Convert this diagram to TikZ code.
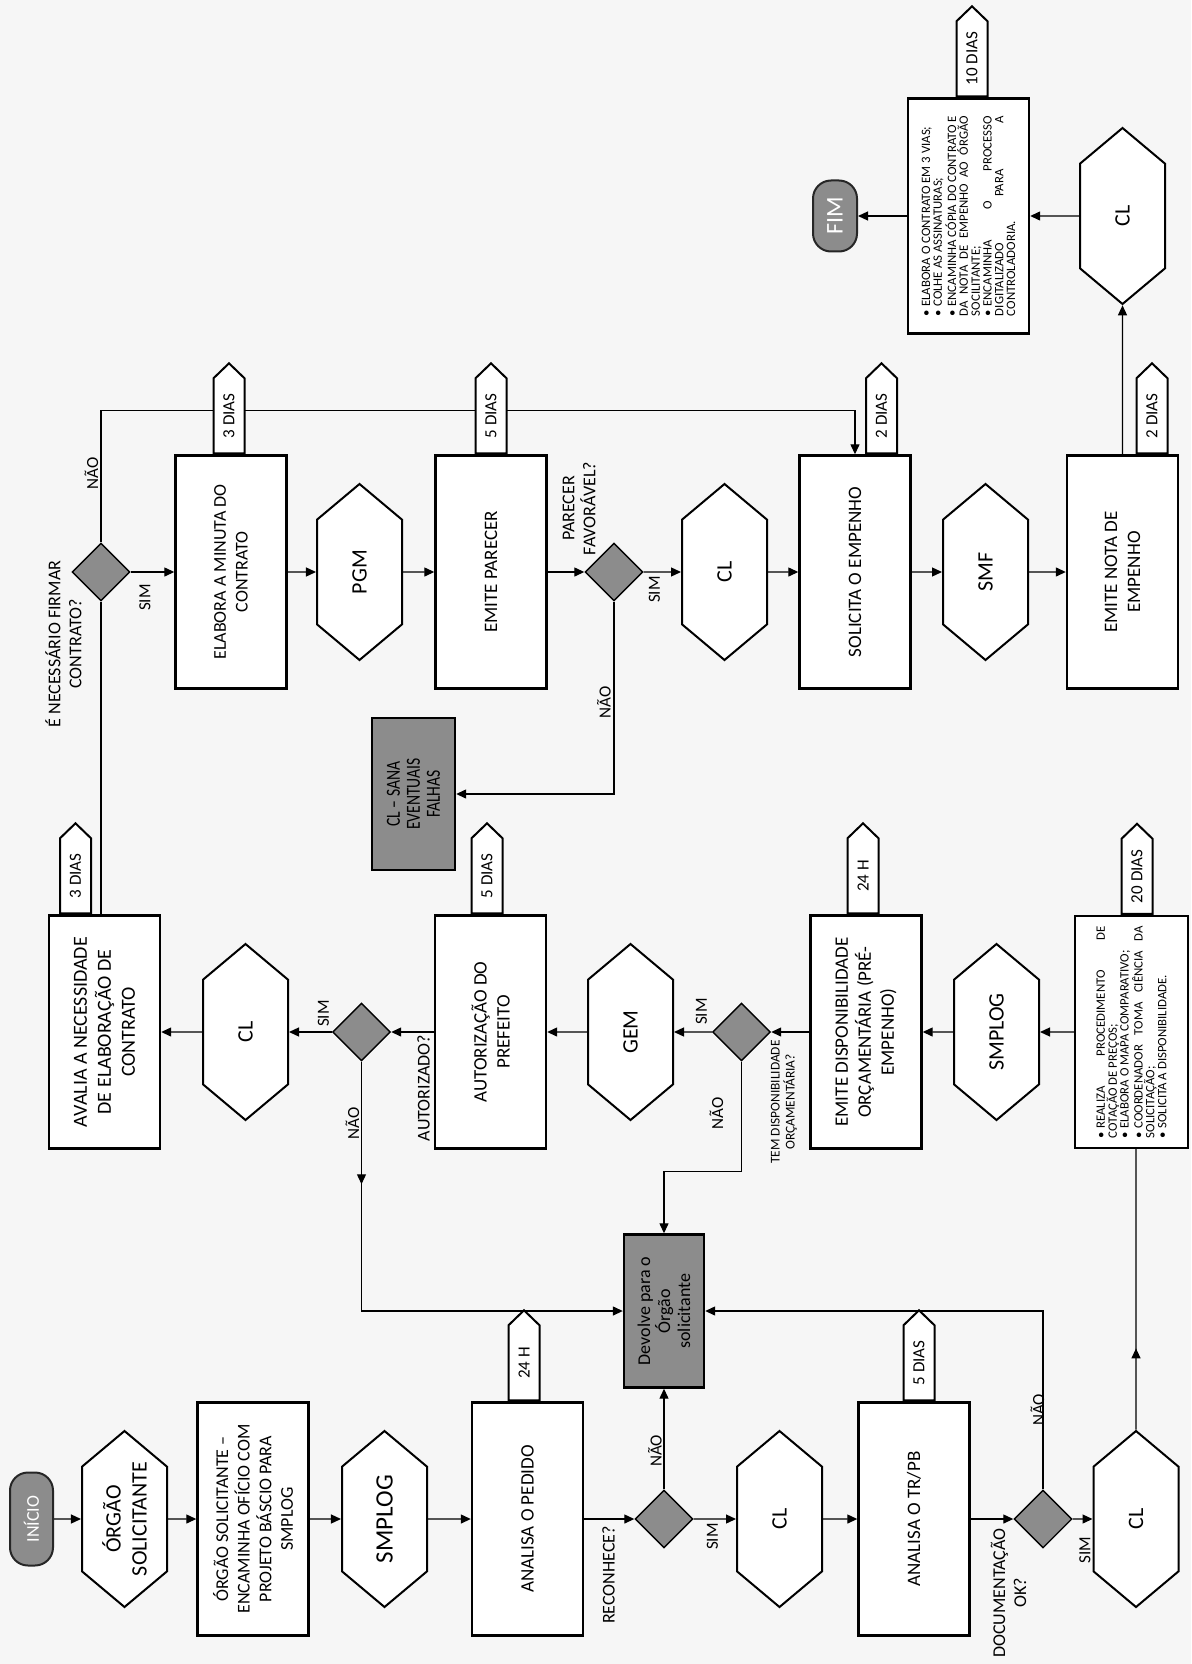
\documentclass[tikz,border=0pt]{standalone}
\usepackage{fontspec}
\setmainfont{Carlito}
\newfontfamily\condensada{Carlito}[FakeStretch=0.78]
\usetikzlibrary{shapes.geometric, shapes.symbols, arrows.meta, decorations.markings}

\definecolor{cinza}{gray}{0.55}
\definecolor{papel}{gray}{0.965}

\tolerance=10000
\hbadness=10000
\hyphenpenalty=10000
\exhyphenpenalty=10000
\newcommand{\marca}{•\kern1.5pt}

\begin{document}
\begin{tikzpicture}[
    x=0.5pt, y=-0.5pt,
    box/.style={rectangle, draw, line width=1.2pt, fill=white, rotate=90,
        minimum width=116.5pt, minimum height=55.5pt, align=center, inner sep=2pt,
        font=\fontsize{9.5}{11.5}\selectfont},
    hexa/.style={signal, signal to=east and west, signal pointer angle=100,
        draw, line width=1pt, fill=white, rotate=90,
        minimum width=88pt, minimum height=42.5pt, align=center, inner sep=1pt,
        font=\fontsize{11}{13}\selectfont},
    tag/.style={signal, signal to=east, signal pointer angle=92,
        draw, line width=1pt, fill=white, rotate=90, anchor=west,
        minimum width=45pt, minimum height=15.5pt, inner sep=1pt,
        font=\fontsize{8.5}{10}\selectfont},
    decisao/.style={diamond, draw, line width=0.7pt, fill=cinza,
        minimum width=29pt, minimum height=29pt, inner sep=0pt},
    terminal/.style={rectangle, rounded corners=9pt, draw=black!85, line width=1pt,
        fill=cinza, text=white, rotate=90, minimum height=21.5pt,
        font=\fontsize{9}{11}\selectfont},
    cinzabox/.style={rectangle, draw, line width=1.2pt, fill=cinza, rotate=90,
        align=center, inner sep=2pt, font=\fontsize{9}{10}\selectfont},
    lista/.style={rectangle, draw, line width=1.2pt, fill=white, rotate=90,
        align=justify, inner sep=0pt, font=\fontsize{6.4}{5.9}\selectfont},
    rotulo/.style={rotate=90, inner sep=1pt, font=\fontsize{8.5}{10}\selectfont},
    pergunta/.style={rotate=90, inner sep=1pt, align=center,
        font=\fontsize{9}{10.5}\selectfont},
    arrow/.style={-{Triangle[length=5pt, width=4.5pt]}, line width=0.65pt},
    conector/.style={line width=0.65pt},
    midarrow/.style={postaction={decorate}, decoration={markings,
        mark=at position #1 with {\arrow{Triangle[length=5pt, width=4.5pt]}}}},
]

\fill[papel] (0,0) rectangle (1191,1664);
\useasboundingbox (0,0) rectangle (1191,1664);

% ---- linha 1: do pedido ao CL ----
\node[terminal, minimum width=46.5pt] (inicio) at (31.5,1519) {INÍCIO};
\node[hexa, inner xsep=-3pt] (orgao) at (124.5,1519) {ÓRGÃO\\SOLICITANTE};
\node[box, font=\fontsize{9}{10.8}\selectfont] (oficio) at (253,1519)
    {ÓRGÃO SOLICITANTE –\\ENCAMINHA OFÍCIO COM\\PROJETO BÁSCIO PARA\\SMPLOG};
\node[hexa, font=\fontsize{12.5}{14}\selectfont] (smplogA) at (384.5,1519) {SMPLOG};
\node[box] (pedido) at (527.5,1519) {ANALISA O PEDIDO};
\node[decisao] (reconhece) at (664,1519) {};
\node[hexa] (clA) at (779.5,1519) {CL};
\node[box] (trpb) at (914,1519) {ANALISA O TR/PB};
\node[decisao] (docok) at (1043,1519) {};
\node[hexa] (clB) at (1136,1519) {CL};

\node[cinzabox, minimum width=76.5pt, minimum height=40pt] (devolve) at (664,1311)
    {Devolve para o\\Órgão\\solicitante};

% ---- linha 2: cotacao ate avaliacao do contrato ----
\node[box, font=\fontsize{10}{12}\selectfont] (avalia) at (104.5,1032)
    {AVALIA A NECESSIDADE\\DE ELABORAÇÃO DE\\CONTRATO};
\node[hexa] (clC) at (245.5,1032) {CL};
\node[decisao] (autorizado) at (361.5,1032) {};
\node[box] (prefeito) at (490.5,1032) {AUTORIZAÇÃO DO\\PREFEITO};
\node[hexa] (gem) at (630.5,1032) {GEM};
\node[decisao] (temdisp) at (741.5,1032) {};
\node[box] (disponib) at (866,1032) {EMITE DISPONIBILIDADE\\ORÇAMENTÁRIA (PRÉ-\\EMPENHO)};
\node[hexa] (smplogB) at (996.5,1032) {SMPLOG};
\node[lista, minimum width=116pt, minimum height=56.5pt, text width=106pt] (realiza) at (1131.5,1032)
    {\noindent\marca REALIZA PROCEDIMENTO DE\linebreak COTAÇÃO DE PREÇOS;\newline
     \marca ELABORA O MAPA COMPARATIVO;\newline
     \marca COORDENADOR TOMA CIÊNCIA DA\linebreak SOLICITAÇÃO;\newline
     \marca SOLICITA A DISPONIBILIDADE.};

% ---- linha 3: contrato e empenho ----
\node[decisao] (firmar) at (101,572) {};
\node[box, font=\fontsize{9}{10.8}\selectfont] (minuta) at (231,572) {ELABORA A MINUTA DO\\CONTRATO};
\node[hexa] (pgm) at (359.5,572) {PGM};
\node[box] (parecer) at (491,572) {EMITE PARECER};
\node[decisao] (favoravel) at (614,572) {};
\node[hexa] (clD) at (724.5,572) {CL};
\node[box] (empenho) at (855,572) {SOLICITA O EMPENHO};
\node[hexa] (smf) at (985.5,572) {SMF};
\node[box] (nota) at (1122.5,572) {EMITE NOTA DE\\EMPENHO};

\node[cinzabox, minimum width=76pt, minimum height=41.5pt,
      font=\condensada\fontsize{10}{10}\selectfont] (sana) at (413.5,794)
    {CL – SANA\\EVENTUAIS\\FALHAS};

% ---- linha 4: fim ----
\node[terminal, minimum width=35.5pt, minimum height=22pt,
      font=\fontsize{12}{14}\selectfont] (fim) at (835,216) {FIM};
\node[lista, minimum width=117.5pt, minimum height=60.5pt, text width=100pt] (contrato) at (968.5,216)
    {\noindent\marca ELABORA O CONTRATO EM 3 VIAS;\newline
     \marca COLHE AS ASSINATURAS;\newline
     \marca ENCAMINHA CÓPIA DO CONTRATO E\linebreak DA NOTA DE EMPENHO AO ÓRGÃO\linebreak SOCILITANTE;\newline
     \marca ENCAMINHA O PROCESSO\linebreak DIGITALIZADO PARA A\linebreak CONTROLADORIA.};
\node[hexa] (clE) at (1122.5,216) {CL};

% ---- conectores ----
\draw[arrow] (inicio) -- (orgao);
\draw[arrow] (orgao) -- (oficio);
\draw[arrow] (oficio) -- (smplogA);
\draw[arrow] (smplogA) -- (pedido);
\draw[arrow] (pedido) -- (reconhece);
\draw[arrow] (reconhece) -- (clA);
\draw[arrow] (reconhece) -- (devolve);
\draw[arrow] (clA) -- (trpb);
\draw[arrow] (trpb) -- (docok);
\draw[arrow] (docok) -- (clB);
\draw[arrow] (docok) |- (devolve);
\draw[conector, midarrow=0.29] (clB) -- (clB |- realiza.west);

\draw[arrow] (realiza) -- (smplogB);
\draw[arrow] (smplogB) -- (disponib);
\draw[arrow] (disponib) -- (temdisp);
\draw[arrow] (temdisp) -- (gem);
\draw[arrow] (temdisp.south) -- ++(0,110) -| (devolve);
\draw[arrow] (gem) -- (prefeito);
\draw[arrow] (prefeito) -- (autorizado);
\draw[arrow] (autorizado) -- (clC);
\draw[arrow, midarrow=0.24] (autorizado) |- (devolve);
\draw[arrow] (clC) -- (avalia);
\draw[conector] (firmar) -- (firmar |- avalia.east);

\draw[arrow] (firmar) -- (minuta);
\draw[arrow] (firmar.north) -- ++(0,-132) -| (empenho);
\draw[arrow] (minuta) -- (pgm);
\draw[arrow] (pgm) -- (parecer);
\draw[arrow] (parecer) -- (favoravel);
\draw[arrow] (favoravel) -- (clD);
\draw[arrow] (favoravel) |- (sana);
\draw[arrow] (clD) -- (empenho);
\draw[arrow] (empenho) -- (smf);
\draw[arrow] (smf) -- (nota);
\draw[arrow] (nota) -- (clE);
\draw[arrow] (clE) -- (contrato);
\draw[arrow] (contrato) -- (fim);

% ---- prazos ----
\node[tag] (tpedido)   at ([xshift=-1.75pt]pedido.east)   {24 H};
\node[tag] (ttrpb)     at ([xshift=2.5pt]trpb.east)       {5 DIAS};
\node[tag] (tavalia)   at ([xshift=-14.5pt]avalia.east)   {3 DIAS};
\node[tag] (tprefeito) at ([xshift=-1.75pt]prefeito.east) {5 DIAS};
\node[tag] (tdisponib) at ([xshift=-1.5pt]disponib.east)  {24 H};
\node[tag] (trealiza)  at ([xshift=2.75pt]realiza.east)   {20 DIAS};
\node[tag] (tminuta)   at ([xshift=-1pt]minuta.east)      {3 DIAS};
\node[tag] (tparecer)  at (parecer.east)                  {5 DIAS};
\node[tag] (tempenho)  at ([xshift=13.25pt]empenho.east)  {2 DIAS};
\node[tag] (tnota)     at ([xshift=14.75pt]nota.east)     {2 DIAS};
\node[tag] (tcontrato) at ([xshift=1.75pt]contrato.east)  {10 DIAS};

% ---- rotulos ----
\node[pergunta] (qreconhece) at (608.5,1575) {RECONHECE?};
\node[rotulo] (nreconhece) at (655,1451) {NÃO};
\node[rotulo] (sreconhece) at (712.5,1536.5) {SIM};
\node[pergunta] (qdocok) at (1008.5,1593) {DOCUMENTAÇÃO\\OK?};
\node[rotulo] (ndocok) at (1037.5,1410) {NÃO};
\node[rotulo] (sdocok) at (1085,1550) {SIM};
\node[pergunta, font=\fontsize{6.7}{7.5}\selectfont] (qtemdisp) at (784,1102)
    {TEM DISPONIBILIDADE\\ORÇAMENTÁRIA?};
\node[rotulo] (stemdisp) at (701.5,1011.5) {SIM};
\node[rotulo] (ntemdisp) at (716.5,1113.5) {NÃO};
\node[pergunta] (qautorizado) at (423.5,1088) {AUTORIZADO?};
\node[rotulo] (sautorizado) at (323.5,1013.5) {SIM};
\node[rotulo] (nautorizado) at (352.5,1123.5) {NÃO};
\node[pergunta] (qfirmar) at (63.5,644) {É NECESSÁRIO FIRMAR\\CONTRATO?};
\node[rotulo] (nfirmar) at (91.5,473.5) {NÃO};
\node[rotulo] (sfirmar) at (145,597.5) {SIM};
\node[pergunta] (qfavoravel) at (579,508.5) {PARECER\\FAVORÁVEL?};
\node[rotulo] (sfavoravel) at (654.5,589.5) {SIM};
\node[rotulo] (nfavoravel) at (604,702.5) {NÃO};

\end{tikzpicture}
\end{document}
